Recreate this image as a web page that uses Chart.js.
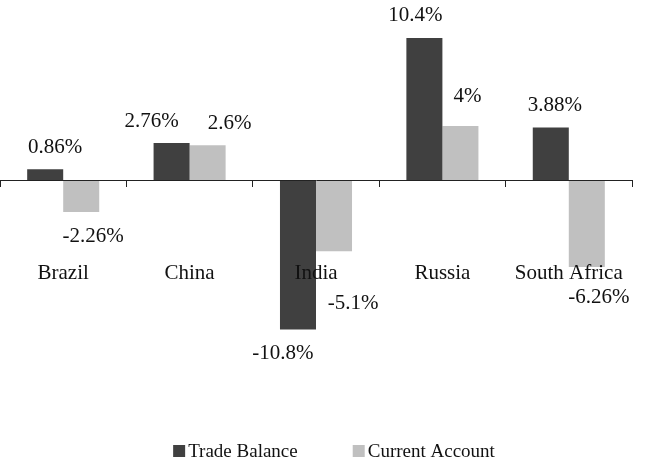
<!DOCTYPE html>
<html><head><meta charset="utf-8">
<script src="https://cdn.jsdelivr.net/npm/chart.js@4/dist/chart.umd.min.js"></script>
<style>html,body{margin:0;padding:0;background:#fff;}</style>
</head><body>
<canvas id="c" width="650" height="474"></canvas>
<script>
const categories = ['Brazil', 'China', 'India', 'Russia', 'South Africa'];
const seriesNames = ['Trade Balance', 'Current Account'];
const tradeBalance = [0.86, 2.76, -10.8, 10.4, 3.88];
const currentAccount = [-2.26, 2.6, -5.1, 4, -6.26];

// label nudges (px) relative to the default outside-end label placement
const labelNudges = [
  [[10, 0], [-20, 0], [-15, 0], [-9, 0], [4, 0]],
  [[12, 0], [22, 0], [19, 28], [7, -7], [12, 6]]
];

Chart.defaults.font.family = '"Liberation Serif", "Times New Roman", serif';
Chart.defaults.color = '#000';

const valueLabels = {
  id: 'valueLabels',
  afterDatasetsDraw(chart) {
    const ctx = chart.ctx;
    ctx.save();
    ctx.font = '21px "Liberation Serif"';
    ctx.fillStyle = '#111';
    ctx.textAlign = 'center';
    ctx.textBaseline = 'middle';
    chart.data.datasets.forEach((ds, di) => {
      const meta = chart.getDatasetMeta(di);
      meta.data.forEach((bar, i) => {
        const v = ds.data[i];
        const nd = labelNudges[di][i];
        const y = v >= 0 ? bar.y - 22 : bar.y + 24;
        ctx.fillText(v + '%', bar.x + nd[0], y + nd[1]);
      });
    });
    ctx.restore();
  }
};

// Excel-style legend row built from the datasets
const bottomLegend = {
  id: 'bottomLegend',
  afterDraw(chart) {
    const ctx = chart.ctx;
    ctx.save();
    ctx.font = '19px "Liberation Serif"';
    ctx.textBaseline = 'middle';
    ctx.textAlign = 'left';
    const box = 12, gapText = 3, gapItem = 55;
    const items = chart.data.datasets.map(ds => ({
      text: ds.label, color: ds.backgroundColor,
      w: box + gapText + ctx.measureText(ds.label).width
    }));
    const total = items.reduce((s, it) => s + it.w, 0) + gapItem * (items.length - 1);
    let x = chart.width / 2 + 9 - total / 2;
    const y = 451;
    items.forEach(it => {
      ctx.fillStyle = it.color;
      ctx.fillRect(x, y - box / 2, box, box);
      ctx.fillStyle = '#111';
      ctx.fillText(it.text, x + box + gapText, y + 1);
      x += it.w + gapItem;
    });
    ctx.restore();
  }
};

new Chart(document.getElementById('c'), {
  type: 'bar',
  data: {
    labels: categories,
    datasets: [
      { label: seriesNames[0], data: tradeBalance, backgroundColor: '#404040', borderWidth: 0 },
      { label: seriesNames[1], data: currentAccount, backgroundColor: '#c0c0c0', borderWidth: 0 }
    ]
  },
  options: {
    responsive: false,
    animation: false,
    categoryPercentage: 0.57,
    barPercentage: 1.0,
    layout: { padding: { top: 9, bottom: 40, left: 0, right: 18 } },
    plugins: {
      tooltip: { enabled: false },
      legend: { display: false }
    },
    scales: {
      x: {
        position: { y: 0 },
        grid: { offset: true, drawOnChartArea: false, drawTicks: true, tickLength: 6, color: '#222', z: 1 },
        border: { color: '#222', width: 1, z: 1 },
        ticks: { padding: 74, font: { size: 21 }, color: '#111', autoSkip: false, maxRotation: 0, z: 1 },
        afterFit(scale) { scale.paddingLeft = 0; scale.paddingRight = 0; }
      },
      y: { display: false, min: -18.39, max: 12.5 }
    }
  },
  plugins: [valueLabels, bottomLegend]
});
</script>
</body></html>
